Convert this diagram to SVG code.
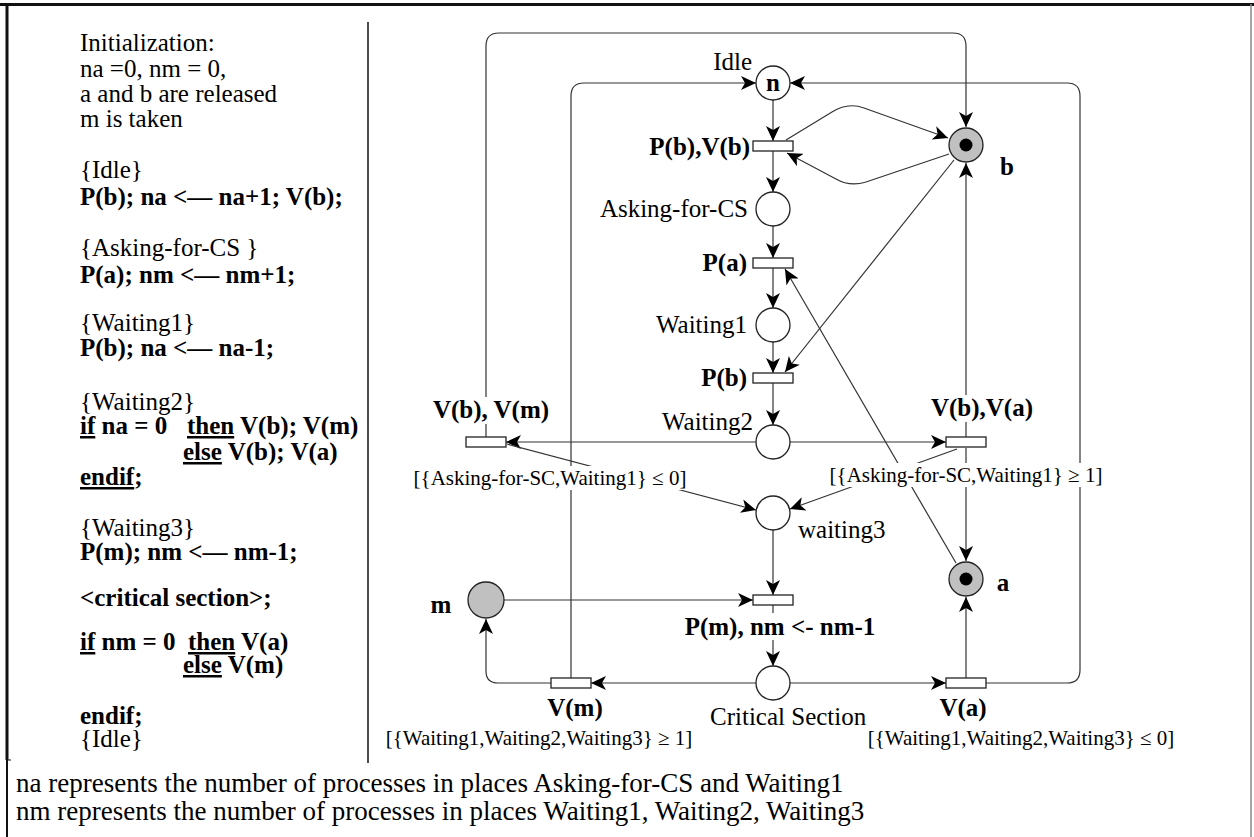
<svg xmlns="http://www.w3.org/2000/svg" width="1254" height="837" viewBox="0 0 1254 837">
<defs>
<marker id="ah" markerUnits="userSpaceOnUse" markerWidth="16" markerHeight="14" refX="15" refY="7" orient="auto">
<path d="M0,0 L15,7 L0,14 L4,7 Z" fill="#000"/>
</marker>
<style>
text{font-family:"Liberation Serif","Times New Roman",serif;fill:#000}
.t{font-size:25px}
.n{font-size:27px}
.b{font-weight:bold}
.s{font-size:21px}
.e{text-anchor:end}
.m{text-anchor:middle}
.ca{fill:none;stroke:#333;stroke-width:1.2;marker-end:url(#ah)}
.pl{fill:#fff;stroke:#222;stroke-width:1.3}
.pg{fill:#c0c0c0;stroke:#222;stroke-width:1.3}
.tr{fill:#fff;stroke:#222;stroke-width:1.3}
.mk{fill:#fff}
</style>
</defs>
<rect x="0" y="0" width="1254" height="837" fill="#fff"/>
<g id="frame">
<line x1="0" y1="4.5" x2="1254" y2="4.5" stroke="#111" stroke-width="3"/>
<line x1="7" y1="4" x2="7" y2="760" stroke="#111" stroke-width="3"/>
<line x1="7" y1="760" x2="7" y2="837" stroke="#111" stroke-width="2"/>
<line x1="7" y1="760" x2="11" y2="760" stroke="#111" stroke-width="1"/>
<line x1="1251" y1="4" x2="1251" y2="837" stroke="#888" stroke-width="1.5"/>
<line x1="368" y1="22" x2="368" y2="763" stroke="#111" stroke-width="1.5"/>
</g>
<g id="code-text">
<text class="t" x="80" y="51">Initialization:</text>
<text class="t" x="80" y="77">na =0, nm = 0,</text>
<text class="t" x="80" y="102">a and b are released</text>
<text class="t" x="80" y="127">m is taken</text>
<text class="t" x="80" y="178">{Idle}</text>
<text class="t b" x="80" y="205">P(b); na &lt;— na+1; V(b);</text>
<text class="t" x="80" y="256">{Asking-for-CS }</text>
<text class="t b" x="80" y="283">P(a); nm &lt;— nm+1;</text>
<text class="t" x="80" y="331">{Waiting1}</text>
<text class="t b" x="80" y="356">P(b); na &lt;— na-1;</text>
<text class="t" x="80" y="410">{Waiting2}</text>
<text class="t b" x="80" y="434"><tspan text-decoration="underline">if</tspan> na = 0<tspan x="187" text-decoration="underline">then</tspan> V(b); V(m)</text>
<text class="t b" x="183" y="460"><tspan text-decoration="underline">else</tspan> V(b); V(a)</text>
<text class="t b" x="80" y="485"><tspan text-decoration="underline">endif</tspan>;</text>
<text class="t" x="80" y="536">{Waiting3}</text>
<text class="t b" x="80" y="560">P(m); nm &lt;— nm-1;</text>
<text class="t b" x="80" y="606">&lt;critical section&gt;;</text>
<text class="t b" x="80" y="650"><tspan text-decoration="underline">if</tspan> nm = 0<tspan x="188" text-decoration="underline">then</tspan> V(a)</text>
<text class="t b" x="183" y="673"><tspan text-decoration="underline">else</tspan> V(m)</text>
<text class="t b" x="80" y="724">endif;</text>
<text class="t" x="80" y="747">{Idle}</text>
</g>
<g id="notes">
<text class="n" x="16" y="792">na represents the number of processes in places Asking-for-CS and Waiting1</text>
<text class="n" x="16" y="820">nm represents the number of processes in places Waiting1, Waiting2, Waiting3</text>
</g>
<g id="connectors">
<line class="ca" x1="773" y1="100" x2="773" y2="141"/>
<line class="ca" x1="773" y1="151" x2="773" y2="192"/>
<line class="ca" x1="773" y1="226" x2="773" y2="258"/>
<line class="ca" x1="773" y1="268" x2="773" y2="308"/>
<line class="ca" x1="773" y1="342" x2="773" y2="373"/>
<line class="ca" x1="773" y1="383" x2="773" y2="425"/>
<line class="ca" x1="756" y1="442" x2="506" y2="442"/>
<line class="ca" x1="790" y1="442" x2="946" y2="442"/>
<line class="ca" x1="507" y1="444" x2="756" y2="510"/>
<line class="ca" x1="957" y1="449" x2="790" y2="509"/>
<line class="ca" x1="954" y1="160" x2="785" y2="372"/>
<line class="ca" x1="956" y1="563" x2="785" y2="269"/>
<path class="ca" d="M786,140 L832,112 Q848,102 864,108 L948,138"/>
<path class="ca" d="M949,154 L866,182 Q850,187 836,179 L787,153"/>
<line class="ca" x1="773" y1="530" x2="773" y2="595"/>
<line class="ca" x1="504" y1="600" x2="753" y2="600"/>
<line class="ca" x1="773" y1="605" x2="773" y2="666"/>
<line class="ca" x1="756" y1="683" x2="591" y2="683"/>
<line class="ca" x1="790" y1="683" x2="946" y2="683"/>
<path class="ca" d="M551,683 L498,683 Q486,683 486,671 L486,619"/>
<path class="ca" d="M571,678 L571,96 Q571,83 584,83 L756,83"/>
<path class="ca" d="M986,683 L1067,683 Q1080,683 1080,670 L1080,96 Q1080,83 1067,83 L790,83"/>
<line class="ca" x1="966" y1="678" x2="966" y2="597"/>
<line class="ca" x1="966" y1="448" x2="966" y2="561"/>
<line class="ca" x1="966" y1="437" x2="966" y2="163"/>
<path class="ca" d="M486,437 L486,46 Q486,33 499,33 L953,33 Q966,33 966,46 L966,127"/>
</g>
<g id="place-idle">
<circle class="pl" cx="773" cy="83" r="17"/>
<text class="t b m" x="773" y="91">n</text>
<text class="t e" x="752" y="70">Idle</text>
</g>
<g id="trans-pbvb">
<rect class="tr" x="753" y="141" width="40" height="10"/>
<text class="t b e" x="750" y="155">P(b),V(b)</text>
</g>
<g id="place-asking">
<circle class="pl" cx="773" cy="209" r="17"/>
<text class="t e" x="748" y="217">Asking-for-CS</text>
</g>
<g id="trans-pa">
<rect class="tr" x="753" y="258" width="40" height="10"/>
<text class="t b e" x="747" y="271">P(a)</text>
</g>
<g id="place-waiting1">
<circle class="pl" cx="773" cy="325" r="17"/>
<text class="t e" x="747" y="333">Waiting1</text>
</g>
<g id="trans-pb">
<rect class="tr" x="753" y="373" width="40" height="10"/>
<text class="t b e" x="747" y="386">P(b)</text>
</g>
<g id="place-waiting2">
<circle class="pl" cx="773" cy="442" r="17"/>
<text class="t e" x="753" y="430">Waiting2</text>
</g>
<g id="place-waiting3">
<circle class="pl" cx="773" cy="513" r="17"/>
<text class="t" x="798" y="538">waiting3</text>
</g>
<g id="trans-pm">
<rect class="tr" x="753" y="595" width="40" height="10"/>
<rect class="mk" x="684" y="613" width="193" height="27"/>
<text class="t b m" x="780" y="635">P(m), nm &lt;- nm-1</text>
</g>
<g id="place-cs">
<circle class="pl" cx="773" cy="683" r="17"/>
<text class="t" x="710" y="725">Critical Section</text>
</g>
<g id="trans-vbvm">
<rect class="tr" x="466" y="437" width="40" height="10"/>
<rect class="mk" x="432" y="397" width="118" height="27"/>
<text class="t b m" x="491" y="418">V(b), V(m)</text>
<rect class="mk" x="411" y="466" width="278" height="24"/>
<text class="s m" x="550" y="485">[{Asking-for-SC,Waiting1} ≤ 0]</text>
</g>
<g id="trans-vbva">
<rect class="tr" x="946" y="437" width="40" height="10"/>
<rect class="mk" x="931" y="395" width="103" height="27"/>
<text class="t b m" x="982" y="416">V(b),V(a)</text>
<rect class="mk" x="827" y="463" width="279" height="24"/>
<text class="s m" x="966" y="482">[{Asking-for-SC,Waiting1} ≥ 1]</text>
</g>
<g id="place-b">
<circle class="pg" cx="966" cy="145" r="17"/>
<circle cx="966" cy="145" r="6.5" fill="#000"/>
<text class="t b m" x="1007" y="175">b</text>
</g>
<g id="place-a">
<circle class="pg" cx="966" cy="579" r="17"/>
<circle cx="966" cy="579" r="6.5" fill="#000"/>
<text class="t b m" x="1003" y="591">a</text>
</g>
<g id="place-m">
<circle class="pg" cx="486" cy="600" r="18"/>
<text class="t b m" x="441" y="613">m</text>
</g>
<g id="trans-vm">
<rect class="tr" x="551" y="678" width="40" height="10"/>
<text class="t b m" x="575" y="716">V(m)</text>
<text class="s m" x="539" y="745">[{Waiting1,Waiting2,Waiting3} ≥ 1]</text>
</g>
<g id="trans-va">
<rect class="tr" x="946" y="678" width="40" height="10"/>
<text class="t b m" x="963" y="716">V(a)</text>
<text class="s m" x="1021" y="745">[{Waiting1,Waiting2,Waiting3} ≤ 0]</text>
</g>
</svg>
